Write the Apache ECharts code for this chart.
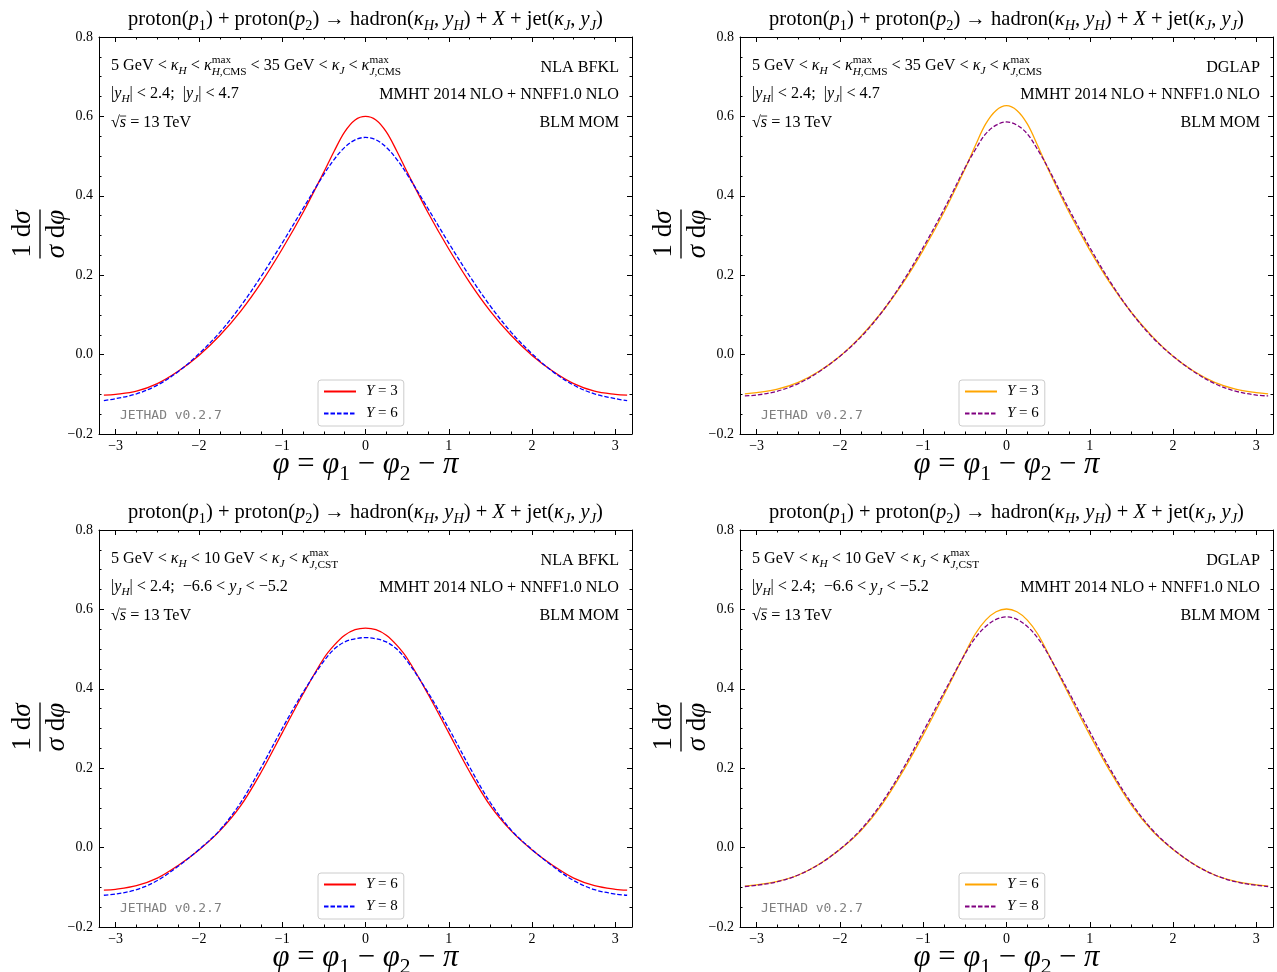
<!DOCTYPE html>
<html><head><meta charset="utf-8">
<script src="https://cdn.jsdelivr.net/npm/echarts@6/dist/echarts.min.js"></script>
<style>html,body{margin:0;padding:0;background:#fff}#c{width:1277px;height:972px}</style>
</head><body><div id="c"></div>
<script>
// ---------------- data ----------------
const phi = [-3.1416,-3,-2.75,-2.5,-2.25,-2,-1.75,-1.5,-1.25,-1,-0.75,-0.5,-0.375,-0.25,-0.125,0,0.125,0.25,0.375,0.5,0.75,1,1.25,1.5,1.75,2,2.25,2.5,2.75,3,3.1416];
const phiMajorTicks = [-3,-2,-1,0,1,2,3];
const phiMinorTicks = [-3,-2.75,-2.5,-2.25,-2,-1.75,-1.5,-1.25,-1,-0.75,-0.5,-0.25,0,0.25,0.5,0.75,1,1.25,1.5,1.75,2,2.25,2.5,2.75,3];
const yMin = -0.2, yMax = 0.8, yStep = 0.2;

// top-left: NLA BFKL, CMS cuts
const nlaCmsY3 = [-0.102,-0.100,-0.092,-0.073,-0.042,-0.002,0.048,0.109,0.182,0.266,0.358,0.460,0.513,0.561,0.591,0.600,0.591,0.561,0.513,0.460,0.358,0.266,0.182,0.109,0.048,-0.002,-0.042,-0.073,-0.092,-0.100,-0.102];
const nlaCmsY6 = [-0.116,-0.111,-0.099,-0.077,-0.043,0.002,0.056,0.122,0.198,0.281,0.368,0.454,0.492,0.522,0.541,0.547,0.541,0.522,0.492,0.454,0.368,0.281,0.198,0.122,0.056,0.002,-0.043,-0.077,-0.099,-0.111,-0.116];
// top-right: DGLAP, CMS cuts
const dglapCmsY3 = [-0.099,-0.096,-0.087,-0.070,-0.042,-0.004,0.046,0.106,0.178,0.263,0.359,0.467,0.526,0.581,0.615,0.627,0.615,0.581,0.526,0.467,0.359,0.263,0.178,0.106,0.046,-0.004,-0.042,-0.070,-0.087,-0.096,-0.099];
const dglapCmsY6 = [-0.104,-0.102,-0.092,-0.073,-0.043,-0.004,0.044,0.106,0.182,0.270,0.366,0.470,0.516,0.556,0.578,0.586,0.578,0.556,0.516,0.470,0.366,0.270,0.182,0.106,0.044,-0.004,-0.043,-0.073,-0.092,-0.102,-0.104];
// bottom-left: NLA BFKL, CASTOR jet
const nlaCstY6 = [-0.107,-0.105,-0.096,-0.077,-0.045,-0.006,0.042,0.105,0.191,0.289,0.387,0.477,0.510,0.535,0.549,0.553,0.549,0.535,0.510,0.477,0.387,0.289,0.191,0.105,0.042,-0.006,-0.045,-0.077,-0.096,-0.105,-0.107];
const nlaCstY8 = [-0.120,-0.117,-0.106,-0.083,-0.047,-0.005,0.044,0.113,0.203,0.300,0.391,0.470,0.500,0.518,0.526,0.529,0.526,0.518,0.500,0.470,0.391,0.300,0.203,0.113,0.044,-0.005,-0.047,-0.083,-0.106,-0.117,-0.120];
// bottom-right: DGLAP, CASTOR jet
const dglapCstY6 = [-0.097,-0.094,-0.085,-0.069,-0.042,-0.005,0.042,0.107,0.190,0.284,0.385,0.489,0.538,0.573,0.594,0.601,0.594,0.573,0.538,0.489,0.385,0.284,0.190,0.107,0.042,-0.005,-0.042,-0.069,-0.085,-0.094,-0.097];
const dglapCstY8 = [-0.098,-0.095,-0.086,-0.069,-0.042,-0.004,0.045,0.112,0.196,0.292,0.391,0.487,0.528,0.557,0.575,0.581,0.575,0.557,0.528,0.487,0.391,0.292,0.196,0.112,0.045,-0.004,-0.042,-0.069,-0.086,-0.095,-0.098];

// ---------------- styling / layout ----------------
const SERIF = '"Liberation Serif","Times New Roman",serif';
const MONO = '"DejaVu Sans Mono",monospace';
const W = 533, H = 397;
const panels = [
  {left: 99, top: 37, method: 'NLA BFKL', cuts: 'cms', s: [
    {id: 'a1', label: '3', data: nlaCmsY3, color: '#ff0000', dash: false},
    {id: 'a2', label: '6', data: nlaCmsY6, color: '#0000ff', dash: true}]},
  {left: 740, top: 37, method: 'DGLAP', cuts: 'cms', s: [
    {id: 'b1', label: '3', data: dglapCmsY3, color: '#ffa500', dash: false},
    {id: 'b2', label: '6', data: dglapCmsY6, color: '#800080', dash: true}]},
  {left: 99, top: 530, method: 'NLA BFKL', cuts: 'cst', s: [
    {id: 'c1', label: '6', data: nlaCstY6, color: '#ff0000', dash: false},
    {id: 'c2', label: '8', data: nlaCstY8, color: '#0000ff', dash: true}]},
  {left: 740, top: 530, method: 'DGLAP', cuts: 'cst', s: [
    {id: 'd1', label: '6', data: dglapCstY6, color: '#ffa500', dash: false},
    {id: 'd2', label: '8', data: dglapCstY8, color: '#800080', dash: true}]}
];

// ------------- math-text helper (text layout only) -------------
const cv = document.createElement('canvas').getContext('2d');
function fnt(sz, it) { return (it ? 'italic ' : '') + sz.toFixed(2) + 'px ' + SERIF; }
function tw(t, sz, it) { cv.font = fnt(sz, it); return cv.measureText(t).width; }
function norm(p) { return typeof p === 'string' ? {t: p} : p; }
function mlayout(tokens, size) {
  const items = []; let x = 0;
  const add = (p, sz, dy) => { const w = tw(p.t, sz, p.i); items.push({t: p.t, x, dy, sz, it: !!p.i}); x += w; return w; };
  tokens.forEach(t0 => {
    const tk = norm(t0);
    if (tk.stack) {
      const ss = size * 0.7, x0 = x;
      let w1 = 0; tk.stack[0].forEach(p => { w1 += add(norm(p), ss, -0.42 * size); });
      x = x0; let w2 = 0; tk.stack[1].forEach(p => { w2 += add(norm(p), ss, 0.3 * size); });
      x = x0 + Math.max(w1, w2);
    } else if (tk.sub) { add(tk, size * 0.7, 0.22 * size); }
    else if (tk.over) { const x0 = x; const w = add(tk, size, 0); items.push({line: true, x1: x0, x2: x0 + w, dy: -0.74 * size}); }
    else add(tk, size, 0);
  });
  return {items, width: x};
}
function mathEls(tokens, size, x, y, align, fill) {
  const L = mlayout(tokens, size);
  const ox = align === 'center' ? x - L.width / 2 : align === 'right' ? x - L.width : x;
  return L.items.map(it => it.line
    ? {type: 'line', silent: true, shape: {x1: ox + it.x1, y1: y + it.dy, x2: ox + it.x2, y2: y + it.dy}, style: {stroke: fill, lineWidth: 0.8}}
    : {type: 'text', silent: true, x: ox + it.x, y: y + it.dy - 0.34 * it.sz,
       style: {text: it.t, font: fnt(it.sz, it.it), fill: fill, align: 'left', verticalAlign: 'middle', textAlign: 'left', textVerticalAlign: 'middle'}});
}
const I = t => ({t, i: 1});
const SUB = (t, it) => ({t, i: it ? 1 : 0, sub: 1});

const titleTok = ['proton(', I('p'), SUB('1'), ') + proton(', I('p'), SUB('2'), ') → hadron(', I('κ'), SUB('H', 1), ', ', I('y'), SUB('H', 1),
  ') + ', I('X'), ' + jet(', I('κ'), SUB('J', 1), ', ', I('y'), SUB('J', 1), ')'];
const line1Cms = ['5 GeV < ', I('κ'), SUB('H', 1), ' < ', I('κ'), {stack: [['max'], [I('H'), ',CMS']]}, ' < 35 GeV < ', I('κ'), SUB('J', 1), ' < ', I('κ'), {stack: [['max'], [I('J'), ',CMS']]}];
const line1Cst = ['5 GeV < ', I('κ'), SUB('H', 1), ' < 10 GeV < ', I('κ'), SUB('J', 1), ' < ', I('κ'), {stack: [['max'], [I('J'), ',CST']]}];
const line2Cms = ['|', I('y'), SUB('H', 1), '| < 2.4;  |', I('y'), SUB('J', 1), '| < 4.7'];
const line2Cst = ['|', I('y'), SUB('H', 1), '| < 2.4;  −6.6 < ', I('y'), SUB('J', 1), ' < −5.2'];
const line3 = ['√', {t: 's', i: 1, over: 1}, ' = 13 TeV'];
const pdfText = ['MMHT 2014 NLO + NNFF1.0 NLO'];
const xLabelTok = [I('φ'), ' = ', I('φ'), SUB('1'), ' − ', I('φ'), SUB('2'), ' − ', I('π')];
const numTok = ['1', ' ', 'd', I('σ')];
const denTok = [I('σ'), ' d', I('φ')];

const TS = 17 * 475 / mlayout(titleTok, 17).width;
const AS = 16 * 240 / mlayout(pdfText, 16).width;
const XS = 24 * 186 / mlayout(xLabelTok, 24).width;
const YS = 27;

const fmtY = v => Math.abs(v) < 1e-9 ? '0.0' : (v < 0 ? '−' : '') + Math.abs(v).toFixed(1);
const fmtX = v => Math.abs(v) < 1e-9 ? '0' : (v < 0 ? '−' : '') + Math.abs(v).toFixed(0);

const grids = [], xAxes = [], yAxes = [], series = [], legends = [], graphics = [];
const black = {color: '#000', width: 1};
panels.forEach((p, i) => {
  grids.push({left: p.left, top: p.top, width: W, height: H, containLabel: false});
  const cx = {type: 'value', gridIndex: i, min: -3.2, max: 3.2, splitLine: {show: false}, silent: true};
  xAxes.push(Object.assign({}, cx, {position: 'bottom',
    axisLine: {show: true, onZero: false, lineStyle: black},
    axisTick: {show: true, inside: true, length: 5, customValues: phiMajorTicks, lineStyle: black},
    axisLabel: {show: true, customValues: phiMajorTicks, margin: 5, fontSize: 14, fontFamily: SERIF, color: '#000', formatter: fmtX}}));
  xAxes.push(Object.assign({}, cx, {position: 'top',
    axisLine: {show: true, onZero: false, lineStyle: black},
    axisTick: {show: true, inside: true, length: 5, customValues: phiMajorTicks, lineStyle: black},
    axisLabel: {show: false}}));
  xAxes.push(Object.assign({}, cx, {position: 'bottom', axisLine: {show: false, onZero: false},
    axisTick: {show: true, inside: true, length: 2.5, customValues: phiMinorTicks, lineStyle: black},
    axisLabel: {show: false}}));
  xAxes.push(Object.assign({}, cx, {position: 'top', axisLine: {show: false, onZero: false},
    axisTick: {show: true, inside: true, length: 2.5, customValues: phiMinorTicks, lineStyle: black},
    axisLabel: {show: false}}));
  const cy = {type: 'value', gridIndex: i, min: yMin, max: yMax, interval: yStep, splitLine: {show: false}, silent: true,
    axisLine: {show: true, onZero: false, lineStyle: black},
    axisTick: {show: true, inside: true, length: 5, lineStyle: black},
    minorTick: {show: true, splitNumber: 4, length: 2.5, lineStyle: black}, minorSplitLine: {show: false}};
  yAxes.push(Object.assign({}, cy, {position: 'left',
    axisLabel: {show: true, margin: 6, fontSize: 14, fontFamily: SERIF, color: '#000', formatter: fmtY}}));
  yAxes.push(Object.assign({}, cy, {position: 'right', axisLabel: {show: false}}));

  p.s.forEach(s => {
    series.push({type: 'line', name: s.id, xAxisIndex: 4 * i, yAxisIndex: 2 * i, symbol: 'none', smooth: 0.35,
      data: phi.map((x, k) => [x, s.data[k]]),
      itemStyle: {color: s.color},
      lineStyle: {color: s.color, width: 1.3, type: s.dash ? [4.5, 2] : 'solid'}});
  });
  const labelOf = {}; p.s.forEach(s => { labelOf[s.id] = s.label; });
  legends.push({data: p.s.map(s => s.id), orient: 'vertical', left: p.left + 219, top: p.top + 343,
    itemWidth: 32, itemHeight: 14, itemGap: 7, padding: [4, 6, 5, 5],
    borderColor: '#cccccc', borderWidth: 1, borderRadius: 3, backgroundColor: 'rgba(255,255,255,0.8)',
    selectedMode: false,
    itemStyle: {opacity: 0},
    formatter: n => '{i|Y} = ' + labelOf[n],
    textStyle: {fontFamily: SERIF, fontSize: 15, color: '#000', padding: [0, 0, 0, 5],
      rich: {i: {fontFamily: SERIF, fontSize: 15, fontStyle: 'italic', color: '#000'}}}});

  const L = p.left, T = p.top, cxp = L + W / 2;
  const els = [];
  els.push(...mathEls(titleTok, TS, cxp, T - 10, 'center', '#000'));
  els.push(...mathEls(p.cuts === 'cms' ? line1Cms : line1Cst, AS, L + 12, T + 34, 'left', '#000'));
  els.push(...mathEls(p.cuts === 'cms' ? line2Cms : line2Cst, AS, L + 12, T + 62, 'left', '#000'));
  els.push(...mathEls(line3, AS, L + 12, T + 91, 'left', '#000'));
  els.push(...mathEls([p.method], AS, L + W - 13, T + 36, 'right', '#000'));
  els.push(...mathEls(pdfText, AS, L + W - 13, T + 63, 'right', '#000'));
  els.push(...mathEls(['BLM MOM'], AS, L + W - 13, T + 91, 'right', '#000'));
  els.push(...mathEls(xLabelTok, XS, cxp, T + H + 41, 'center', '#000'));
  els.push({type: 'text', silent: true, x: L + 21, y: T + 379,
    style: {text: 'JETHAD v0.2.7', font: '13px ' + MONO, fill: '#808080', align: 'left', verticalAlign: 'middle', textAlign: 'left', textVerticalAlign: 'middle'}});
  // rotated y label (fraction)
  const frac = [];
  frac.push(...mathEls(numTok, YS, 0, -8, 'center', '#000'));
  frac.push({type: 'line', silent: true, shape: {x1: -24.5, y1: 0, x2: 24.5, y2: 0}, style: {stroke: '#000', lineWidth: 1.3}});
  frac.push(...mathEls(denTok, YS, 0, 26, 'center', '#000'));
  els.push({type: 'group', x: L - 59, y: T + 197, rotation: Math.PI / 2, silent: true, children: frac});
  graphics.push(...els);
});

const chart = echarts.init(document.getElementById('c'), null, {renderer: 'canvas'});
chart.setOption({
  animation: false,
  backgroundColor: '#ffffff',
  grid: grids, xAxis: xAxes, yAxis: yAxes, series: series, legend: legends,
  graphic: {elements: graphics}
});
</script></body></html>
